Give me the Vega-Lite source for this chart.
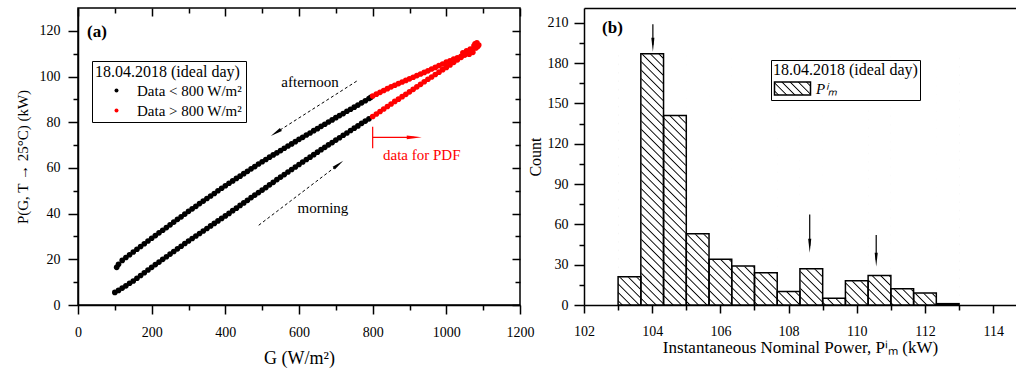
{
"$schema":"https://vega.github.io/schema/vega-lite/v6.json",
"background":"white",
"padding":{"left":14,"top":6,"right":0,"bottom":0},
"bounds":"flush",
"spacing":64,
"datasets":{
"black":[{"g":100,"p":5.5},{"g":110,"p":6.4},{"g":120,"p":7.4},{"g":130,"p":8.4},{"g":140,"p":9.5},{"g":150,"p":10.5},{"g":160,"p":11.7},{"g":170,"p":12.9},{"g":180,"p":14.1},{"g":190,"p":15.3},{"g":200,"p":16.5},{"g":210,"p":17.7},{"g":220,"p":18.8},{"g":230,"p":20.0},{"g":240,"p":21.1},{"g":250,"p":22.3},{"g":260,"p":23.4},{"g":270,"p":24.6},{"g":280,"p":25.7},{"g":290,"p":26.9},{"g":300,"p":28.0},{"g":310,"p":29.1},{"g":320,"p":30.2},{"g":330,"p":31.3},{"g":340,"p":32.4},{"g":350,"p":33.5},{"g":360,"p":34.6},{"g":370,"p":35.7},{"g":380,"p":36.8},{"g":390,"p":37.9},{"g":400,"p":39.0},{"g":410,"p":40.1},{"g":420,"p":41.3},{"g":430,"p":42.4},{"g":440,"p":43.6},{"g":450,"p":44.7},{"g":460,"p":45.8},{"g":470,"p":47.0},{"g":480,"p":48.1},{"g":490,"p":49.2},{"g":500,"p":50.3},{"g":510,"p":51.4},{"g":520,"p":52.6},{"g":530,"p":53.7},{"g":540,"p":54.9},{"g":550,"p":56.0},{"g":560,"p":57.1},{"g":570,"p":58.2},{"g":580,"p":59.3},{"g":590,"p":60.4},{"g":600,"p":61.5},{"g":610,"p":62.6},{"g":620,"p":63.7},{"g":630,"p":64.7},{"g":640,"p":65.8},{"g":650,"p":66.9},{"g":660,"p":68.0},{"g":670,"p":69.0},{"g":680,"p":70.1},{"g":690,"p":71.1},{"g":700,"p":72.2},{"g":710,"p":73.2},{"g":720,"p":74.3},{"g":730,"p":75.3},{"g":740,"p":76.4},{"g":750,"p":77.4},{"g":760,"p":78.4},{"g":770,"p":79.5},{"g":780,"p":80.5},{"g":790,"p":81.5},
{"g":105,"p":16.5},{"g":110,"p":17.8},{"g":120,"p":19.5},{"g":130,"p":20.8},{"g":140,"p":22.0},{"g":150,"p":23.2},{"g":160,"p":24.4},{"g":170,"p":25.6},{"g":180,"p":26.8},{"g":190,"p":28.0},{"g":200,"p":29.2},{"g":210,"p":30.4},{"g":220,"p":31.6},{"g":230,"p":32.7},{"g":240,"p":33.9},{"g":250,"p":35.1},{"g":260,"p":36.3},{"g":270,"p":37.5},{"g":280,"p":38.6},{"g":290,"p":39.8},{"g":300,"p":41.0},{"g":310,"p":42.1},{"g":320,"p":43.2},{"g":330,"p":44.4},{"g":340,"p":45.5},{"g":350,"p":46.6},{"g":360,"p":47.7},{"g":370,"p":48.8},{"g":380,"p":50.0},{"g":390,"p":51.1},{"g":400,"p":52.2},{"g":410,"p":53.3},{"g":420,"p":54.3},{"g":430,"p":55.4},{"g":440,"p":56.4},{"g":450,"p":57.5},{"g":460,"p":58.5},{"g":470,"p":59.6},{"g":480,"p":60.6},{"g":490,"p":61.7},{"g":500,"p":62.7},{"g":510,"p":63.7},{"g":520,"p":64.7},{"g":530,"p":65.7},{"g":540,"p":66.6},{"g":550,"p":67.6},{"g":560,"p":68.6},{"g":570,"p":69.6},{"g":580,"p":70.5},{"g":590,"p":71.5},{"g":600,"p":72.5},{"g":610,"p":73.4},{"g":620,"p":74.4},{"g":630,"p":75.3},{"g":640,"p":76.3},{"g":650,"p":77.2},{"g":660,"p":78.2},{"g":670,"p":79.1},{"g":680,"p":80.1},{"g":690,"p":81.0},{"g":700,"p":82.0},{"g":710,"p":82.9},{"g":720,"p":83.8},{"g":730,"p":84.8},{"g":740,"p":85.7},{"g":750,"p":86.6},{"g":760,"p":87.5},{"g":770,"p":88.5},{"g":780,"p":89.4},{"g":790,"p":90.4},{"g":795,"p":90.9}],
"red":[{"g":800,"p":82.5},{"g":810,"p":83.6},{"g":820,"p":84.7},{"g":830,"p":85.8},{"g":840,"p":86.9},{"g":850,"p":88.0},{"g":860,"p":89.1},{"g":870,"p":90.1},{"g":880,"p":91.2},{"g":890,"p":92.2},{"g":900,"p":93.3},{"g":910,"p":94.4},{"g":920,"p":95.5},{"g":930,"p":96.6},{"g":940,"p":97.7},{"g":950,"p":98.8},{"g":960,"p":99.8},{"g":970,"p":100.9},{"g":980,"p":101.9},{"g":990,"p":103.0},{"g":1000,"p":104.0},{"g":1010,"p":105.1},{"g":1020,"p":106.2},{"g":1030,"p":107.3},{"g":1040,"p":108.4},{"g":1050,"p":109.5},{"g":1060,"p":110.5},{"g":1070,"p":111.5},{"g":1080,"p":112.5},{"g":1085,"p":113.2},
{"g":800,"p":91.5},{"g":810,"p":92.3},{"g":820,"p":93.1},{"g":830,"p":93.9},{"g":840,"p":94.7},{"g":850,"p":95.5},{"g":860,"p":96.2},{"g":870,"p":96.9},{"g":880,"p":97.6},{"g":890,"p":98.3},{"g":900,"p":99.0},{"g":910,"p":99.7},{"g":920,"p":100.4},{"g":930,"p":101.1},{"g":940,"p":101.8},{"g":950,"p":102.5},{"g":960,"p":103.3},{"g":970,"p":104.0},{"g":980,"p":104.8},{"g":990,"p":105.5},{"g":1000,"p":106.3},{"g":1010,"p":106.9},{"g":1020,"p":107.6},{"g":1030,"p":108.2},{"g":1040,"p":108.9},{"g":1050,"p":109.5},{"g":1060,"p":110.5},{"g":1070,"p":111.6},{"g":1080,"p":112.7},{"g":1085,"p":113.5},
{"g":1045,"p":110.4},{"g":1055,"p":111.2},{"g":1065,"p":112.0},{"g":1075,"p":113.4},{"g":1078,"p":114.3},{"g":1083,"p":114.8},{"g":1088,"p":113.8},{"g":1072,"p":110.6},{"g":1062,"p":109.8}],
"hist":[{"b0":103,"b1":103.667,"c":21},{"b0":103.667,"b1":104.333,"c":187},{"b0":104.333,"b1":105,"c":141},{"b0":105,"b1":105.667,"c":53},{"b0":105.667,"b1":106.333,"c":34},{"b0":106.333,"b1":107,"c":29},{"b0":107,"b1":107.667,"c":24},{"b0":107.667,"b1":108.333,"c":10},{"b0":108.333,"b1":109,"c":27},{"b0":109,"b1":109.667,"c":5},{"b0":109.667,"b1":110.333,"c":18},{"b0":110.333,"b1":111,"c":22},{"b0":111,"b1":111.667,"c":12},{"b0":111.667,"b1":112.333,"c":9},{"b0":112.333,"b1":113,"c":1}]
},
"hconcat":[
{
"width":442,"height":297,
"resolve":{"axis":{"x":"independent","y":"independent"}},
"layer":[
{"data":{"name":"black"},"mark":{"type":"circle","size":32,"opacity":1},
"encoding":{
"x":{"field":"g","type":"quantitative","scale":{"domain":[0,1200],"nice":false,"zero":false},
"axis":{"values":[0,100,200,300,400,500,600,700,800,900,1000,1100,1200],"format":"d","labelExpr":"datum.value % 200 === 0 ? datum.label : ''","tickSize":{"condition":{"test":"datum.value % 200 === 0","value":9},"value":5},"labelPadding":11,"title":"G (W/m²)","titleFontSize":18,"titlePadding":10}},
"y":{"field":"p","type":"quantitative","scale":{"domain":[0,130],"nice":false,"zero":false},
"axis":{"values":[0,10,20,30,40,50,60,70,80,90,100,110,120],"format":"d","labelExpr":"datum.value % 20 === 0 ? datum.label : ''","tickSize":{"condition":{"test":"datum.value % 20 === 0","value":10},"value":5},"labelPadding":8,"title":"P(G, T → 25°C) (kW)","titleFontSize":15,"titlePadding":9}},
"color":{"datum":"Data < 800 W/m²","scale":{"domain":["Data < 800 W/m²","Data > 800 W/m²"],"range":["#000000","#ff0000"]},
"legend":{"title":"18.04.2018 (ideal day)","orient":"none","legendX":14,"legendY":53,"strokeColor":"black","fillColor":"white","padding":3,"titleFont":"Liberation Serif","titleFontSize":16,"titleFontWeight":"normal","titleColor":"black","titlePadding":3,"labelFont":"Liberation Serif","labelFontSize":15,"labelColor":"black","symbolType":"circle","symbolSize":16,"symbolStrokeWidth":0,"symbolOffset":14,"labelOffset":13,"rowPadding":4}}}},
{"data":{"name":"red"},"mark":{"type":"circle","size":32,"opacity":1},
"encoding":{"x":{"field":"g","type":"quantitative","scale":{"domain":[0,1200],"nice":false,"zero":false},"axis":null},"y":{"field":"p","type":"quantitative","scale":{"domain":[0,130],"nice":false,"zero":false},"axis":null},"color":{"datum":"Data > 800 W/m²"}}},
{"data":{"values":[{"g":756.7,"p":98.0,"g2":537.1,"p2":75.4},{"g":490.6,"p":34.9,"g2":707.3,"p2":61.5}]},
"mark":{"type":"rule","strokeDash":[3,2.5],"strokeWidth":1,"color":"black"},
"encoding":{"x":{"field":"g","type":"quantitative","axis":null},"y":{"field":"p","type":"quantitative","axis":null},"x2":{"field":"g2"},"y2":{"field":"p2"}}},
{"data":{"values":[{"g":537.1,"p":75.4}]},"mark":{"type":"point","shape":"M0,-1L0.3,1L-0.3,1Z","filled":true,"color":"black","opacity":1,"size":144,"angle":237.4},
"encoding":{"x":{"field":"g","type":"quantitative","axis":null},"y":{"field":"p","type":"quantitative","axis":null}}},
{"data":{"values":[{"g":707.3,"p":61.5}]},"mark":{"type":"point","shape":"M0,-1L0.3,1L-0.3,1Z","filled":true,"color":"black","opacity":1,"size":144,"angle":52.8},
"encoding":{"x":{"field":"g","type":"quantitative","axis":null},"y":{"field":"p","type":"quantitative","axis":null}}},
{"data":{"values":[{"g":800,"p":78.0,"g2":800,"p2":68.6},{"g":800,"p":73.4,"g2":912.9,"p2":73.4}]},
"mark":{"type":"rule","strokeWidth":1.2,"color":"#ff0000"},
"encoding":{"x":{"field":"g","type":"quantitative","axis":null},"y":{"field":"p","type":"quantitative","axis":null},"x2":{"field":"g2"},"y2":{"field":"p2"}}},
{"data":{"values":[{"g":912.9,"p":73.4}]},"mark":{"type":"point","shape":"M0,-1L0.25,1L-0.25,1Z","filled":true,"color":"#ff0000","opacity":1,"size":225,"angle":90},
"encoding":{"x":{"field":"g","type":"quantitative","axis":null},"y":{"field":"p","type":"quantitative","axis":null}}},
{"data":{"values":[{"g":630,"p":97.7,"t":"afternoon"},{"g":665,"p":42.5,"t":"morning"}]},
"mark":{"type":"text","font":"Liberation Serif","fontSize":15,"color":"black","align":"center","baseline":"middle"},
"encoding":{"x":{"field":"g","type":"quantitative","axis":null},"y":{"field":"p","type":"quantitative","axis":null},"text":{"field":"t"}}},
{"data":{"values":[{"g":828,"p":65.7,"t":"data for PDF"}]},
"mark":{"type":"text","font":"Liberation Serif","fontSize":15,"color":"#ff0000","align":"left","baseline":"middle"},
"encoding":{"x":{"field":"g","type":"quantitative","axis":null},"y":{"field":"p","type":"quantitative","axis":null},"text":{"field":"t"}}},
{"data":{"values":[{"g":24.4,"p":119.6,"t":"(a)"}]},
"mark":{"type":"text","font":"Liberation Serif","fontSize":17,"fontWeight":"bold","color":"black","align":"left","baseline":"middle"},
"encoding":{
"x":{"field":"g","type":"quantitative","axis":{"orient":"top","values":[0,100,200,300,400,500,600,700,800,900,1000,1100,1200],"labels":false,"domain":false,"title":null,"tickSize":{"condition":{"test":"datum.value % 200 === 0","value":-8},"value":-5}}},
"y":{"field":"p","type":"quantitative","axis":{"orient":"right","values":[0,10,20,30,40,50,60,70,80,90,100,110,120],"labels":false,"domain":false,"title":null,"tickSize":{"condition":{"test":"datum.value % 20 === 0","value":-8},"value":-5}}},
"text":{"field":"t"}}}
]
},
{
"width":432,"height":297,
"view":{"stroke":null},
"resolve":{"axis":{"x":"independent","y":"independent"}},
"layer":[
{"data":{"values":[{}]},
"mark":{"type":"rect","fill":{"gradient":"linear","x1":0,"y1":1,"x2":1.1255,"y2":0.1703,"stops":[
{"offset":0.0049,"color":"#fff"},{"offset":0.0071,"color":"#000"},{"offset":0.0093,"color":"#fff"},
{"offset":0.0192,"color":"#fff"},{"offset":0.0214,"color":"#000"},{"offset":0.0236,"color":"#fff"},
{"offset":0.0335,"color":"#fff"},{"offset":0.0357,"color":"#000"},{"offset":0.0379,"color":"#fff"},
{"offset":0.0478,"color":"#fff"},{"offset":0.0500,"color":"#000"},{"offset":0.0522,"color":"#fff"},
{"offset":0.0621,"color":"#fff"},{"offset":0.0643,"color":"#000"},{"offset":0.0665,"color":"#fff"},
{"offset":0.0764,"color":"#fff"},{"offset":0.0786,"color":"#000"},{"offset":0.0808,"color":"#fff"},
{"offset":0.0907,"color":"#fff"},{"offset":0.0929,"color":"#000"},{"offset":0.0951,"color":"#fff"},
{"offset":0.1049,"color":"#fff"},{"offset":0.1071,"color":"#000"},{"offset":0.1093,"color":"#fff"},
{"offset":0.1192,"color":"#fff"},{"offset":0.1214,"color":"#000"},{"offset":0.1236,"color":"#fff"},
{"offset":0.1335,"color":"#fff"},{"offset":0.1357,"color":"#000"},{"offset":0.1379,"color":"#fff"},
{"offset":0.1478,"color":"#fff"},{"offset":0.1500,"color":"#000"},{"offset":0.1522,"color":"#fff"},
{"offset":0.1621,"color":"#fff"},{"offset":0.1643,"color":"#000"},{"offset":0.1665,"color":"#fff"},
{"offset":0.1764,"color":"#fff"},{"offset":0.1786,"color":"#000"},{"offset":0.1808,"color":"#fff"},
{"offset":0.1907,"color":"#fff"},{"offset":0.1929,"color":"#000"},{"offset":0.1951,"color":"#fff"},
{"offset":0.2049,"color":"#fff"},{"offset":0.2071,"color":"#000"},{"offset":0.2093,"color":"#fff"},
{"offset":0.2192,"color":"#fff"},{"offset":0.2214,"color":"#000"},{"offset":0.2236,"color":"#fff"},
{"offset":0.2335,"color":"#fff"},{"offset":0.2357,"color":"#000"},{"offset":0.2379,"color":"#fff"},
{"offset":0.2478,"color":"#fff"},{"offset":0.2500,"color":"#000"},{"offset":0.2522,"color":"#fff"},
{"offset":0.2621,"color":"#fff"},{"offset":0.2643,"color":"#000"},{"offset":0.2665,"color":"#fff"},
{"offset":0.2764,"color":"#fff"},{"offset":0.2786,"color":"#000"},{"offset":0.2808,"color":"#fff"},
{"offset":0.2907,"color":"#fff"},{"offset":0.2929,"color":"#000"},{"offset":0.2951,"color":"#fff"},
{"offset":0.3049,"color":"#fff"},{"offset":0.3071,"color":"#000"},{"offset":0.3093,"color":"#fff"},
{"offset":0.3192,"color":"#fff"},{"offset":0.3214,"color":"#000"},{"offset":0.3236,"color":"#fff"},
{"offset":0.3335,"color":"#fff"},{"offset":0.3357,"color":"#000"},{"offset":0.3379,"color":"#fff"},
{"offset":0.3478,"color":"#fff"},{"offset":0.3500,"color":"#000"},{"offset":0.3522,"color":"#fff"},
{"offset":0.3621,"color":"#fff"},{"offset":0.3643,"color":"#000"},{"offset":0.3665,"color":"#fff"},
{"offset":0.3764,"color":"#fff"},{"offset":0.3786,"color":"#000"},{"offset":0.3808,"color":"#fff"},
{"offset":0.3907,"color":"#fff"},{"offset":0.3929,"color":"#000"},{"offset":0.3951,"color":"#fff"},
{"offset":0.4049,"color":"#fff"},{"offset":0.4071,"color":"#000"},{"offset":0.4093,"color":"#fff"},
{"offset":0.4192,"color":"#fff"},{"offset":0.4214,"color":"#000"},{"offset":0.4236,"color":"#fff"},
{"offset":0.4335,"color":"#fff"},{"offset":0.4357,"color":"#000"},{"offset":0.4379,"color":"#fff"},
{"offset":0.4478,"color":"#fff"},{"offset":0.4500,"color":"#000"},{"offset":0.4522,"color":"#fff"},
{"offset":0.4621,"color":"#fff"},{"offset":0.4643,"color":"#000"},{"offset":0.4665,"color":"#fff"},
{"offset":0.4764,"color":"#fff"},{"offset":0.4786,"color":"#000"},{"offset":0.4808,"color":"#fff"},
{"offset":0.4907,"color":"#fff"},{"offset":0.4929,"color":"#000"},{"offset":0.4951,"color":"#fff"},
{"offset":0.5049,"color":"#fff"},{"offset":0.5071,"color":"#000"},{"offset":0.5093,"color":"#fff"},
{"offset":0.5192,"color":"#fff"},{"offset":0.5214,"color":"#000"},{"offset":0.5236,"color":"#fff"},
{"offset":0.5335,"color":"#fff"},{"offset":0.5357,"color":"#000"},{"offset":0.5379,"color":"#fff"},
{"offset":0.5478,"color":"#fff"},{"offset":0.5500,"color":"#000"},{"offset":0.5522,"color":"#fff"},
{"offset":0.5621,"color":"#fff"},{"offset":0.5643,"color":"#000"},{"offset":0.5665,"color":"#fff"},
{"offset":0.5764,"color":"#fff"},{"offset":0.5786,"color":"#000"},{"offset":0.5808,"color":"#fff"},
{"offset":0.5907,"color":"#fff"},{"offset":0.5929,"color":"#000"},{"offset":0.5951,"color":"#fff"},
{"offset":0.6049,"color":"#fff"},{"offset":0.6071,"color":"#000"},{"offset":0.6093,"color":"#fff"},
{"offset":0.6192,"color":"#fff"},{"offset":0.6214,"color":"#000"},{"offset":0.6236,"color":"#fff"},
{"offset":0.6335,"color":"#fff"},{"offset":0.6357,"color":"#000"},{"offset":0.6379,"color":"#fff"},
{"offset":0.6478,"color":"#fff"},{"offset":0.6500,"color":"#000"},{"offset":0.6522,"color":"#fff"},
{"offset":0.6621,"color":"#fff"},{"offset":0.6643,"color":"#000"},{"offset":0.6665,"color":"#fff"},
{"offset":0.6764,"color":"#fff"},{"offset":0.6786,"color":"#000"},{"offset":0.6808,"color":"#fff"},
{"offset":0.6907,"color":"#fff"},{"offset":0.6929,"color":"#000"},{"offset":0.6951,"color":"#fff"},
{"offset":0.7049,"color":"#fff"},{"offset":0.7071,"color":"#000"},{"offset":0.7093,"color":"#fff"},
{"offset":0.7192,"color":"#fff"},{"offset":0.7214,"color":"#000"},{"offset":0.7236,"color":"#fff"},
{"offset":0.7335,"color":"#fff"},{"offset":0.7357,"color":"#000"},{"offset":0.7379,"color":"#fff"},
{"offset":0.7478,"color":"#fff"},{"offset":0.7500,"color":"#000"},{"offset":0.7522,"color":"#fff"},
{"offset":0.7621,"color":"#fff"},{"offset":0.7643,"color":"#000"},{"offset":0.7665,"color":"#fff"},
{"offset":0.7764,"color":"#fff"},{"offset":0.7786,"color":"#000"},{"offset":0.7808,"color":"#fff"},
{"offset":0.7907,"color":"#fff"},{"offset":0.7929,"color":"#000"},{"offset":0.7951,"color":"#fff"},
{"offset":0.8049,"color":"#fff"},{"offset":0.8071,"color":"#000"},{"offset":0.8093,"color":"#fff"},
{"offset":0.8192,"color":"#fff"},{"offset":0.8214,"color":"#000"},{"offset":0.8236,"color":"#fff"},
{"offset":0.8335,"color":"#fff"},{"offset":0.8357,"color":"#000"},{"offset":0.8379,"color":"#fff"},
{"offset":0.8478,"color":"#fff"},{"offset":0.8500,"color":"#000"},{"offset":0.8522,"color":"#fff"},
{"offset":0.8621,"color":"#fff"},{"offset":0.8643,"color":"#000"},{"offset":0.8665,"color":"#fff"},
{"offset":0.8764,"color":"#fff"},{"offset":0.8786,"color":"#000"},{"offset":0.8808,"color":"#fff"},
{"offset":0.8907,"color":"#fff"},{"offset":0.8929,"color":"#000"},{"offset":0.8951,"color":"#fff"},
{"offset":0.9049,"color":"#fff"},{"offset":0.9071,"color":"#000"},{"offset":0.9093,"color":"#fff"},
{"offset":0.9192,"color":"#fff"},{"offset":0.9214,"color":"#000"},{"offset":0.9236,"color":"#fff"},
{"offset":0.9335,"color":"#fff"},{"offset":0.9357,"color":"#000"},{"offset":0.9379,"color":"#fff"},
{"offset":0.9478,"color":"#fff"},{"offset":0.9500,"color":"#000"},{"offset":0.9522,"color":"#fff"},
{"offset":0.9621,"color":"#fff"},{"offset":0.9643,"color":"#000"},{"offset":0.9665,"color":"#fff"},
{"offset":0.9764,"color":"#fff"},{"offset":0.9786,"color":"#000"},{"offset":0.9808,"color":"#fff"},
{"offset":0.9907,"color":"#fff"},{"offset":0.9929,"color":"#000"},{"offset":0.9951,"color":"#fff"}
]},"strokeWidth":0},
"encoding":{"x":{"datum":103,"type":"quantitative","scale":{"domain":[102,114.67],"nice":false,"zero":false},"axis":null},"x2":{"datum":113},"y":{"datum":0,"type":"quantitative","scale":{"domain":[0,221],"nice":false,"zero":false},"axis":null},"y2":{"datum":187}}},
{"data":{"name":"hist"},"mark":{"type":"rect","fill":"white","stroke":"white","strokeWidth":1},
"encoding":{"x":{"field":"b0","type":"quantitative","scale":{"domain":[102,114.67],"nice":false,"zero":false},"axis":null},"x2":{"field":"b1"},"y":{"field":"c","type":"quantitative","scale":{"domain":[0,221],"nice":false,"zero":false},"axis":null},"y2":{"datum":190}}},
{"data":{"name":"hist"},"mark":{"type":"rect","fill":"transparent","stroke":"black","strokeWidth":1.5},
"encoding":{
"x":{"field":"b0","type":"quantitative","scale":{"domain":[102,114.67],"nice":false,"zero":false},
"axis":{"values":[102,103,104,105,106,107,108,109,110,111,112,113,114],"format":"d","labelExpr":"datum.value % 2 === 0 ? datum.label : ''","tickSize":{"condition":{"test":"datum.value % 2 === 0","value":8},"value":5},"labelPadding":11,"title":"Instantaneous Nominal Power, Pⁱₘ  (kW)","titleFontSize":17,"titlePadding":1}},
"x2":{"field":"b1"},
"y":{"field":"c","type":"quantitative","scale":{"domain":[0,221],"nice":false,"zero":false},
"axis":{"values":[0,15,30,45,60,75,90,105,120,135,150,165,180,195,210],"format":"d","labelExpr":"datum.value % 30 === 0 ? datum.label : ''","tickSize":{"condition":{"test":"datum.value % 30 === 0","value":10},"value":5},"labelPadding":6,"title":"Count","titlePadding":4}},
"y2":{"datum":0}}},
{"data":{"values":[]},
"mark":{"type":"rect","fill":{"gradient":"linear","x1":0,"y1":1,"x2":1.204,"y2":0.565,"stops":[
{"offset":0.0573,"color":"#fff"},{"offset":0.0833,"color":"#000"},{"offset":0.1093,"color":"#fff"},
{"offset":0.224,"color":"#fff"},{"offset":0.25,"color":"#000"},{"offset":0.276,"color":"#fff"},
{"offset":0.3907,"color":"#fff"},{"offset":0.4167,"color":"#000"},{"offset":0.4427,"color":"#fff"},
{"offset":0.5573,"color":"#fff"},{"offset":0.5833,"color":"#000"},{"offset":0.6093,"color":"#fff"},
{"offset":0.724,"color":"#fff"},{"offset":0.75,"color":"#000"},{"offset":0.776,"color":"#fff"},
{"offset":0.8907,"color":"#fff"},{"offset":0.9167,"color":"#000"},{"offset":0.9427,"color":"#fff"}]},"strokeWidth":1.5},
"encoding":{
"x":{"field":"b0","type":"quantitative","scale":{"domain":[102,114.67],"nice":false,"zero":false},"axis":null},
"x2":{"field":"b1"},
"y":{"field":"c","type":"quantitative","scale":{"domain":[0,221],"nice":false,"zero":false},"axis":null},
"y2":{"datum":0},
"stroke":{"datum":"Pⁱₘ","scale":{"range":["black"]},
"legend":{"title":"18.04.2018 (ideal day)","orient":"none","legendX":693,"legendY":52,"strokeColor":"black","fillColor":"white","padding":2,"titleFont":"Liberation Serif","titleFontSize":16,"titleFontWeight":"normal","titleColor":"black","titlePadding":3,"labelFont":"Liberation Serif","labelFontSize":15,"labelFontStyle":"italic","labelColor":"black","symbolType":"M-2.77,-1H2.77V1H-2.77Z","symbolSize":169,"symbolStrokeColor":"black","symbolStrokeWidth":1.5,"symbolOffset":12,"labelOffset":16}}}},
{"data":{"values":[{"x":104.02,"y":209,"y2":193.7},{"x":108.62,"y":67.4,"y2":44.1},{"x":110.57,"y":52.1,"y2":33.7}]},
"mark":{"type":"rule","strokeWidth":1.2,"color":"black"},
"encoding":{"x":{"field":"x","type":"quantitative","scale":{"domain":[102,114.67],"nice":false,"zero":false},"axis":null},"y":{"field":"y","type":"quantitative","scale":{"domain":[0,221],"nice":false,"zero":false},"axis":null},"y2":{"field":"y2"}}},
{"data":{"values":[{"x":104.02,"y":193.7},{"x":108.62,"y":44.1},{"x":110.57,"y":33.7}]},
"mark":{"type":"point","shape":"M0,-1L0.22,1L-0.22,1Z","filled":true,"color":"black","opacity":1,"size":196,"angle":180},
"encoding":{"x":{"field":"x","type":"quantitative","scale":{"domain":[102,114.67],"nice":false,"zero":false},"axis":null},"y":{"field":"y","type":"quantitative","scale":{"domain":[0,221],"nice":false,"zero":false},"axis":null}}},
{"data":{"values":[{"x":102.53,"y":205.9,"t":"(b)"}]},
"mark":{"type":"text","font":"Liberation Serif","fontSize":17,"fontWeight":"bold","color":"black","align":"left","baseline":"middle"},
"encoding":{"x":{"field":"x","type":"quantitative","scale":{"domain":[102,114.67],"nice":false,"zero":false},"axis":{"orient":"top","ticks":false,"labels":false,"domain":true,"title":null}},"y":{"field":"y","type":"quantitative","scale":{"domain":[0,221],"nice":false,"zero":false},"axis":null},"text":{"field":"t"}}}
]
}
],
"config":{
"font":"Liberation Serif",
"view":{"stroke":"black","strokeWidth":1.5},
"axis":{"domainColor":"black","domainWidth":1.5,"tickColor":"black","tickWidth":1.5,"labelFont":"Liberation Serif","labelFontSize":14,"labelColor":"black","titleFont":"Liberation Serif","titleFontSize":16,"titleFontWeight":"normal","titleColor":"black","grid":false,"labelFlush":false,"labelOverlap":false}
}
}
